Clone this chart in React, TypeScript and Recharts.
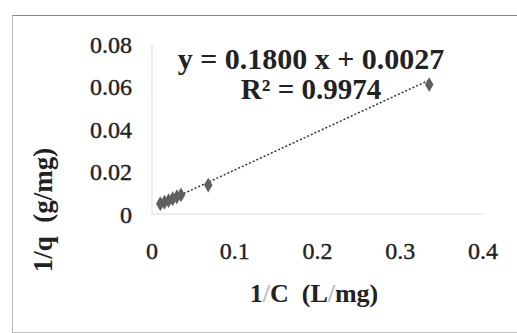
import { ScatterChart, Scatter, XAxis, YAxis, Customized } from "recharts";

const xValues = [0.01, 0.015, 0.02, 0.025, 0.03, 0.035, 0.068, 0.335];
const yValues = [0.0048, 0.0055, 0.0063, 0.0072, 0.0081, 0.009, 0.0136, 0.0609];
const trendX = [0.012, 0.335];
const trendY = [0.0049, 0.063];
const xTicks = [0, 0.1, 0.2, 0.3, 0.4];
const yTicks = [0, 0.02, 0.04, 0.06, 0.08];

const points = xValues.map((x, i) => ({ x, y: yValues[i] }));
const trend = trendX.map((x, i) => ({ x, y: trendY[i] }));

const serif = "'Liberation Serif', 'Times New Roman', serif";

function Titles() {
  return (
    <g fontFamily={serif} fontWeight="bold" fill="#222">
      <text x={311} y={69} fontSize={30} textAnchor="middle">
        y = 0.1800 x + 0.0027
      </text>
      <text x={311} y={99} fontSize={29} textAnchor="middle">
        R² = 0.9974
      </text>
      <text x={314} y={302} fontSize={26} textAnchor="middle" style={{ whiteSpace: "pre" }}>
        1<tspan fill="#bbb">/</tspan>C{"  "}(L<tspan fill="#bbb">/</tspan>mg)
      </text>
      <text
        x={0}
        y={0}
        fontSize={27}
        textAnchor="middle"
        style={{ whiteSpace: "pre" }}
        transform="translate(52,210) rotate(-90)"
      >
        {"1/q  (g/mg)"}
      </text>
    </g>
  );
}

export default function App() {
  return (
    <div style={{ position: "absolute", left: 0, top: 0, width: 517, height: 333, background: "#fff", overflow: "hidden" }}>
      <div
        style={{
          position: "absolute",
          left: 12,
          top: 15,
          width: 520,
          height: 316,
          borderLeft: "1px solid #bbb",
          borderTop: "1px solid #888",
          borderBottom: "1px solid #bbb",
        }}
      />
      <div style={{ position: "absolute", left: 0, top: 0 }}>
        <ScatterChart width={517} height={333} margin={{ top: 44, right: 34, bottom: 89, left: 72 }}>
          <XAxis
            type="number"
            dataKey="x"
            domain={[0, 0.4]}
            ticks={xTicks}
            tickFormatter={(v: number) => String(v)}
            axisLine={{ stroke: "#ddd" }}
            tickLine={false}
            tickSize={0}
            tickMargin={28}
            height={30}
            tick={{ fontSize: 24, fill: "#222", stroke: "#222", strokeWidth: 0.4, fontFamily: serif }}
          />
          <YAxis
            type="number"
            dataKey="y"
            domain={[0, 0.08]}
            ticks={yTicks}
            tickFormatter={(v: number) => String(v === 0 ? 0 : v.toFixed(2))}
            axisLine={{ stroke: "#ddd" }}
            tickLine={false}
            tickSize={0}
            tickMargin={20}
            width={80}
            tick={{ fontSize: 24, fill: "#222", stroke: "#222", strokeWidth: 0.4, fontFamily: serif }}
          />
          <Scatter
            data={trend}
            line={{ stroke: "#333", strokeWidth: 1.5, strokeDasharray: "2 2" }}
            shape={() => <g />}
            isAnimationActive={false}
          />
          <Scatter data={points} shape="diamond" fill="#606060" size={210} isAnimationActive={false} />
          <Customized component={Titles} />
        </ScatterChart>
      </div>
    </div>
  );
}
